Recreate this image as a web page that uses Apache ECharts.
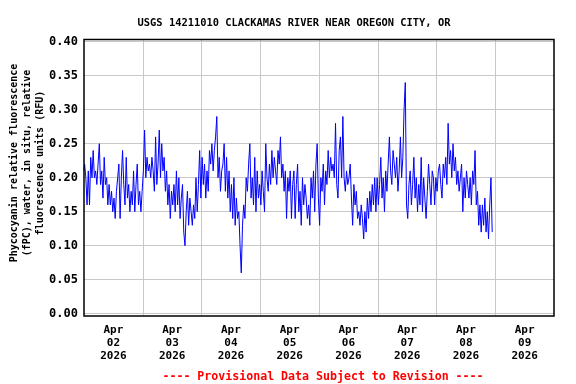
<!DOCTYPE html>
<html>
<head>
<meta charset="utf-8">
<script src="https://cdn.jsdelivr.net/npm/echarts@6/dist/echarts.min.js"></script>
<style>
html,body{margin:0;padding:0;background:#fff;}
#chart{width:576px;height:384px;}
</style>
</head>
<body>
<div id="chart"></div>
<script>
// ---- data (30-minute readings, starting at midnight of each day) ----
const titleText = 'USGS 14211010 CLACKAMAS RIVER NEAR OREGON CITY, OR';
const yAxisTitle = ['Phycocyanin relative fluorescence', '(fPC), water, in situ, relative', 'fluorescence units (RFU)'];
const footerText = '---- Provisional Data Subject to Revision ----';
const dayMonths = ['Apr', 'Apr', 'Apr', 'Apr', 'Apr', 'Apr', 'Apr', 'Apr'];
const dayNumbers = ['02', '03', '04', '05', '06', '07', '08', '09'];
const dayYears = ['2026', '2026', '2026', '2026', '2026', '2026', '2026', '2026'];
const yTicks = [0.00, 0.05, 0.10, 0.15, 0.20, 0.25, 0.30, 0.35, 0.40];

const apr02 = [0.21,0.22,0.20,0.16,0.21,0.16,0.23,0.20,0.24,0.20,0.21,0.19,0.22,0.25,0.19,0.21,
               0.17,0.23,0.19,0.20,0.16,0.19,0.16,0.18,0.15,0.17,0.14,0.18,0.20,0.22,0.14,0.20,
               0.24,0.19,0.16,0.23,0.17,0.19,0.15,0.18,0.16,0.21,0.15,0.19,0.22,0.16,0.18,0.15];
const apr03 = [0.18,0.21,0.27,0.20,0.23,0.21,0.22,0.20,0.23,0.21,0.18,0.26,0.19,0.22,0.27,0.20,
               0.25,0.21,0.23,0.18,0.21,0.16,0.19,0.14,0.18,0.16,0.19,0.15,0.21,0.16,0.20,0.14,
               0.17,0.19,0.12,0.10,0.15,0.18,0.13,0.17,0.15,0.13,0.16,0.14,0.20,0.15,0.19,0.24];
const apr04 = [0.17,0.23,0.19,0.22,0.17,0.21,0.18,0.24,0.22,0.25,0.21,0.24,0.26,0.29,0.20,0.23,
               0.18,0.21,0.22,0.25,0.18,0.23,0.17,0.21,0.15,0.19,0.14,0.20,0.13,0.17,0.14,0.15,
               0.10,0.06,0.13,0.16,0.14,0.20,0.18,0.22,0.25,0.17,0.20,0.16,0.23,0.15,0.21,0.17];
const apr05 = [0.19,0.16,0.21,0.18,0.15,0.25,0.20,0.18,0.22,0.19,0.24,0.20,0.23,0.21,0.19,0.24,
               0.22,0.26,0.20,0.22,0.18,0.21,0.14,0.20,0.18,0.21,0.14,0.19,0.21,0.14,0.19,0.22,
               0.15,0.18,0.13,0.20,0.16,0.19,0.17,0.14,0.16,0.13,0.20,0.17,0.21,0.15,0.22,0.25];
const apr06 = [0.17,0.13,0.20,0.18,0.22,0.16,0.21,0.19,0.24,0.20,0.23,0.21,0.22,0.20,0.28,0.19,
               0.17,0.24,0.26,0.20,0.29,0.20,0.18,0.21,0.19,0.20,0.22,0.17,0.13,0.19,0.16,0.18,
               0.14,0.15,0.13,0.16,0.14,0.11,0.15,0.12,0.17,0.14,0.18,0.15,0.19,0.16,0.20,0.15];
const apr07 = [0.20,0.16,0.19,0.23,0.17,0.20,0.15,0.21,0.18,0.22,0.26,0.21,0.19,0.24,0.22,0.20,
               0.23,0.18,0.21,0.26,0.20,0.23,0.30,0.34,0.16,0.14,0.19,0.21,0.16,0.19,0.23,0.17,
               0.20,0.15,0.19,0.16,0.23,0.15,0.20,0.17,0.14,0.18,0.22,0.19,0.16,0.21,0.20,0.16];
const apr08 = [0.20,0.18,0.21,0.22,0.19,0.17,0.22,0.20,0.23,0.19,0.28,0.22,0.24,0.20,0.25,0.21,
               0.23,0.19,0.21,0.18,0.20,0.22,0.15,0.20,0.17,0.21,0.19,0.17,0.20,0.16,0.21,0.19,
               0.24,0.16,0.18,0.13,0.16,0.12,0.16,0.13,0.17,0.12,0.15,0.11,0.16,0.20,0.12];
const dailyReadings = [apr02, apr03, apr04, apr05, apr06, apr07, apr08];
const stepHours = 0.5;

// build [hour, value] pairs (hours since Apr 02 00:00)
const seriesData = [];
dailyReadings.forEach((arr, d) => {
  arr.forEach((v, i) => seriesData.push([d * 24 + i * stepHours, v]));
});
const dayLabels = dayMonths.map((m, i) => m + '\n' + dayNumbers[i] + '\n' + dayYears[i]);

const FONT = '"DejaVu Sans Mono", "Liberation Mono", monospace';
const chart = echarts.init(document.getElementById('chart'), null, {renderer: 'canvas'});
chart.setOption({
  animation: false,
  backgroundColor: '#ffffff',
  title: [{
    text: titleText, left: 289, top: 13, textAlign: 'center',
    textStyle: {fontFamily: FONT, fontWeight: 'bold', fontSize: 10.4, color: '#000'}
  }, {
    text: footerText, left: 318, top: 366, textAlign: 'center',
    textStyle: {fontFamily: FONT, fontWeight: 'bold', fontSize: 11.6, color: '#ff0000'}
  }],
  graphic: [{
    type: 'text', x: 27, y: 163, rotation: Math.PI / 2,
    style: {
      text: yAxisTitle.join('\n'), align: 'center', verticalAlign: 'middle',
      font: 'bold 10px ' + FONT, lineHeight: 13, fill: '#000'
    }
  }],
  grid: [
    // frame grid
    {left: 84, right: 22, top: 39.5, bottom: 68, show: true, borderColor: '#000', borderWidth: 1.5, backgroundColor: 'transparent', z: 5},
    // data grid
    {left: 84, right: 22, top: 41.7, bottom: 70.3, show: false}
  ],
  xAxis: [{
    type: 'category', gridIndex: 0, data: dayLabels, boundaryGap: true, position: 'bottom',
    axisLine: {show: false}, axisTick: {show: false},
    axisLabel: {interval: 0, margin: 8, fontFamily: FONT, fontWeight: 'bold', fontSize: 11, lineHeight: 13, color: '#000'},
    splitLine: {show: true, interval: 0, showMinLine: false, showMaxLine: false, lineStyle: {color: '#c8c8c8', width: 1}}
  }, {
    type: 'value', gridIndex: 1, min: 0, max: 192, interval: 24,
    axisLine: {show: false}, axisTick: {show: false}, axisLabel: {show: false}, splitLine: {show: false}
  }],
  yAxis: [{
    type: 'value', gridIndex: 0, min: 0, max: 1,
    axisLine: {show: false}, axisTick: {show: false}, axisLabel: {show: false}, splitLine: {show: false}
  }, {
    type: 'value', gridIndex: 1, min: yTicks[0], max: yTicks[yTicks.length - 1], interval: 0.05,
    axisLine: {show: false}, axisTick: {show: false},
    axisLabel: {margin: 6, formatter: v => v.toFixed(2), fontFamily: FONT, fontWeight: 'bold', fontSize: 12, color: '#000'},
    splitLine: {show: true, lineStyle: {color: '#c8c8c8', width: 1}}
  }],
  series: [{
    type: 'line', xAxisIndex: 1, yAxisIndex: 1, data: seriesData,
    showSymbol: false, symbol: 'none', sampling: null, step: 'middle',
    lineStyle: {color: '#0000ff', width: 1}, z: 3
  }]
});
</script>
</body>
</html>
